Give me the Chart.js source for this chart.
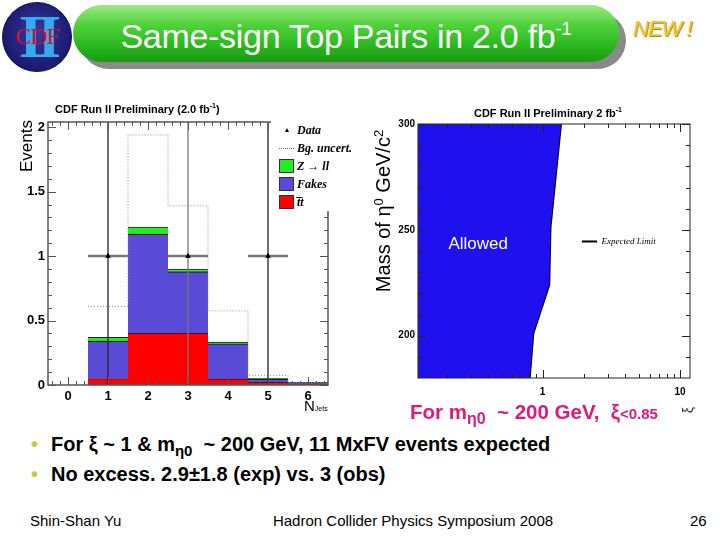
<!DOCTYPE html>
<html>
<head>
<meta charset="utf-8">
<script src="https://cdn.jsdelivr.net/npm/chart.js@4.4.0/dist/chart.umd.min.js"></script>
<style>
  body { margin: 0; width: 720px; height: 540px; background: #fff; position: relative; overflow: hidden; font-family: "Liberation Sans", Arial, sans-serif; }
  .abs { position: absolute; }
  #logo { left: 2px; top: 2px; width: 68px; height: 68px; border-radius: 50%; background: radial-gradient(circle at 50% 45%, #3a3aa0, #1a1a70 70%, #12125a); border: 1px solid #0c0c40; overflow: hidden; }
  #logo .ii { position: absolute; left: 0; width: 68px; top: -2px; text-align: center; font: bold 62px "Liberation Serif", serif; color: #35aaf0; letter-spacing: -6px; }
  #logo .cdf { position: absolute; left: 0; width: 68px; top: 20px; text-align: center; font: 24px "Liberation Serif", serif; color: #d0102c; letter-spacing: -1px; }
  #pillShadow { left: 80px; top: 12px; width: 546px; height: 57px; border-radius: 29px; background: #8a8a8a; }
  #pill { left: 73px; top: 5px; width: 546px; height: 57px; border-radius: 29px; background: linear-gradient(#9be882 0%, #4fd23a 35%, #27b41c 75%, #1c9a14 100%); }
  #title { left: 73px; top: 5px; width: 546px; height: 57px; line-height: 62px; text-align: center; color: #fff; font-size: 34px; letter-spacing: -0.3px; }
  #title sup { font-size: 19px; vertical-align: 0; position: relative; top: -13px; }
  #newTag { left: 633px; top: 16px; font: italic 22px "Liberation Sans", sans-serif; color: #f2c62a; text-shadow: 1px 1px 0 #b08a10; letter-spacing: -1px; }
  canvas { position: absolute; }
  #leftWrap { left: 0; top: 95px; width: 350px; height: 320px; position: absolute; }
  #rightWrap { left: 360px; top: 95px; width: 340px; height: 310px; position: absolute; }
  .small { font-weight: bold; font-size: 11px; color: #000; white-space: nowrap; }
  #legendL { left: 271px; top: 121px; width: 80px; height: 90px; background: #fff; font: italic bold 12px "Liberation Serif", serif; }
  #legendL .txt { position: absolute; left: 26px; white-space: nowrap; }
  #legendL .sw { position: absolute; left: 8px; width: 15px; height: 14px; border: 1px solid #333; box-sizing: border-box; }
  #legendL .tri { position: absolute; left: 14px; top: 7px; width: 0; height: 0; border-left: 2.5px solid transparent; border-right: 2.5px solid transparent; border-bottom: 4px solid #000; }
  #legendL .dot { position: absolute; left: 8px; top: 27px; width: 15px; border-top: 1px dotted #666; }
  .pink { left: 410px; top: 400px; font-weight: bold; font-size: 20.5px; color: #e0187a; white-space: nowrap; }
  .bullet { left: 31px; font-weight: bold; font-size: 20px; white-space: nowrap; }
  .bullet b { color: #c4cc3c; margin-right: 13px; }
  .foot { top: 512px; font-size: 15px; white-space: nowrap; }
</style>
</head>
<body>

<div id="logo" class="abs"><div class="ii">II</div><div class="cdf">CDF</div></div>
<div id="pillShadow" class="abs"></div>
<div id="pill" class="abs"></div>
<div id="title" class="abs">Same-sign Top Pairs in 2.0 fb<sup>-1</sup></div>
<div id="newTag" class="abs">NEW !</div>

<div id="leftWrap"><canvas id="jetsChart" width="350" height="320"></canvas></div>
<div id="rightWrap"><canvas id="limitChart" width="340" height="310"></canvas></div>

<!-- left plot texts -->
<div class="abs small" style="left:55px;top:102px;">CDF Run II Preliminary (2.0 fb<sup style="font-size:7px">-1</sup>)</div>
<div class="abs" style="left:27px;top:146px;transform:translate(-50%,-50%) rotate(-90deg);font-size:17px;">Events</div>
<div class="abs" style="left:304px;top:397px;font-size:15px;">N<span style="font-size:7px;">Jets</span></div>
<div id="legendL" class="abs">
  <span class="tri"></span><div class="txt" style="top:2px;">Data</div>
  <span class="dot"></span><div class="txt" style="top:20px;">Bg. uncert.</div>
  <span class="sw" id="swZ" style="top:38px;"></span><div class="txt" style="top:38px;">Z &#8594; ll</div>
  <span class="sw" id="swF" style="top:56px;"></span><div class="txt" style="top:56px;">Fakes</div>
  <span class="sw" id="swT" style="top:74px;"></span><div class="txt" style="top:74px;">t&#773;t</div>
</div>

<!-- right plot texts -->
<div class="abs small" style="left:548px;top:106px;transform:translateX(-50%);">CDF Run II Preliminary 2 fb<sup style="font-size:7px">-1</sup></div>
<div class="abs" style="left:383px;top:211px;transform:translate(-50%,-50%) rotate(-90deg);font-size:20px;white-space:nowrap;">Mass of &#951;<sup style="font-size:13px">0</sup> GeV/c<sup style="font-size:13px">2</sup></div>
<div class="abs" style="left:688px;top:410px;transform:translate(-50%,-50%) rotate(-90deg);font-size:14px;color:#333;">&#958;</div>
<div class="abs pink">For m<sub style="font-size:16px">&#951;0</sub>&nbsp; ~ 200 GeV,&nbsp; &#958;<span style="font-size:15px">&lt;0.85</span></div>

<div class="abs bullet" style="top:433px;"><b>&#8226;</b>For &#958; ~ 1 &amp; m<sub style="font-size:15px">&#951;0</sub>&nbsp; ~ 200 GeV, 11 MxFV events expected</div>
<div class="abs bullet" style="top:463px;"><b>&#8226;</b>No excess. 2.9&#177;1.8 (exp) vs. 3 (obs)</div>

<div class="abs foot" style="left:30px;">Shin-Shan Yu</div>
<div class="abs foot" style="left:413px;transform:translateX(-50%);">Hadron Collider Physics Symposium 2008</div>
<div class="abs foot" style="left:690px;">26</div>

<script>
// ---- left plot: same-sign events vs number of jets ----
const nJets = [0, 1, 2, 3, 4, 5, 6];
const jetLabels = ['0', '1', '2', '3', '4', '5', '6'];
const ttbar = [null, 0.05, 0.40, 0.40, 0.045, 0.02, 0.010];
const fakes = [null, 0.29, 0.77, 0.48, 0.275, 0.027, 0.008];
const zll = [null, 0.03, 0.055, 0.02, 0.012, 0.004, 0.002];
const bgUpper = [null, 0.61, 1.94, 1.39, 0.575, 0.075, 0.02];
const dataJets = [1, 3, 5];
const dataEvents = [1, 1, 1];
const dataErrLow = [1, 1, 1];
const dataErrHigh = [2.3, 2.3, 2.3];
const eventTicks = [0, 0.5, 1, 1.5, 2];

const colTT = '#ff0000';
const colFakes = '#5a4ad8';
const colZ = '#22ee22';
document.getElementById('swT').style.background = colTT;
document.getElementById('swF').style.background = colFakes;
document.getElementById('swZ').style.background = colZ;

// ---- right plot: expected limit in (xi, mass) plane ----
const limitXi = [0.805, 0.855, 1.117, 1.14, 1.36];
const limitMass = [180, 201, 224, 251, 300];
const xiRange = [0.124, 11.8];
const massRange = [180, 300];

// inward ROOT-style tick marks + frame
const frameTicks = {
  id: 'frameTicks',
  afterDatasetsDraw(chart, args, o) {
    const ctx = chart.ctx, a = chart.chartArea;
    const xs = chart.scales[o.x], ys = chart.scales[o.y];
    ctx.save();
    ctx.strokeStyle = o.color;
    ctx.lineWidth = 1;
    ctx.beginPath();
    const xt = (v, len) => {
      const p = Math.round(xs.getPixelForValue(v)) + 0.5;
      ctx.moveTo(p, a.bottom); ctx.lineTo(p, a.bottom - len);
      ctx.moveTo(p, a.top); ctx.lineTo(p, a.top + len);
    };
    const yt = (v, len) => {
      const p = Math.round(ys.getPixelForValue(v)) + 0.5;
      ctx.moveTo(a.left, p); ctx.lineTo(a.left + len, p);
      ctx.moveTo(a.right, p); ctx.lineTo(a.right - len, p);
    };
    o.xMajor.forEach(v => xt(v, 8));
    o.xMinor.forEach(v => xt(v, 4));
    o.yMajor.forEach(v => yt(v, 8));
    o.yMinor.forEach(v => yt(v, 4));
    ctx.stroke();
    ctx.lineWidth = o.frameWidth;
    ctx.strokeRect(a.left, a.top, a.width, a.height);
    ctx.restore();
  }
};

// data error bars drawn just before the data markers
const errorBars = {
  id: 'errorBars',
  beforeDatasetDraw(chart, args) {
    if (args.meta.label !== 'Data') return;
    const ctx = chart.ctx, a = chart.chartArea;
    const xs = chart.scales.xl, ys = chart.scales.yl;
    ctx.save();
    ctx.beginPath();
    ctx.rect(a.left, a.top, a.width, a.height);
    ctx.clip();
    dataJets.forEach((j, i) => {
      const px = xs.getPixelForValue(j), py = ys.getPixelForValue(dataEvents[i]);
      ctx.strokeStyle = '#777';
      ctx.lineWidth = 2.5;
      ctx.beginPath();
      ctx.moveTo(xs.getPixelForValue(j - 0.5), py);
      ctx.lineTo(xs.getPixelForValue(j + 0.5), py);
      ctx.stroke();
      ctx.strokeStyle = i === 1 ? '#777' : '#222';
      ctx.lineWidth = 1.3;
      ctx.beginPath();
      ctx.moveTo(px, ys.getPixelForValue(dataEvents[i] - dataErrLow[i]));
      ctx.lineTo(px, ys.getPixelForValue(dataEvents[i] + dataErrHigh[i]));
      ctx.stroke();
    });
    ctx.restore();
  }
};

const bgLine = [];
for (let i = 1; i < nJets.length; i++) {
  bgLine.push({ x: nJets[i] - 0.5, y: bgUpper[i] }, { x: nJets[i] + 0.5, y: bgUpper[i] });
}

const tickFont = { family: 'Liberation Sans', size: 13, weight: 'bold' };
const leftMinorX = [], leftMinorY = [];
for (let v = -0.4; v < 6.5; v += 0.2) leftMinorX.push(v);
for (let v = 0.1; v < 2.04; v += 0.1) leftMinorY.push(v);

const barOpts = { order: 3, grouped: false, barPercentage: 1, categoryPercentage: 1, borderSkipped: false };

new Chart(document.getElementById('jetsChart'), {
  type: 'bar',
  data: {
    labels: jetLabels,
    datasets: [
      Object.assign({ label: 'tt', data: ttbar, backgroundColor: colTT, borderColor: '#6a0000', borderWidth: { top: 1 } }, barOpts),
      Object.assign({ label: 'Fakes', data: fakes, backgroundColor: colFakes, borderColor: '#111', borderWidth: { top: 1.2 } }, barOpts),
      Object.assign({ label: 'Z', data: zll, backgroundColor: colZ, borderColor: '#222', borderWidth: { top: 1 } }, barOpts),
      { type: 'line', label: 'Bg', data: bgLine, xAxisID: 'xl', yAxisID: 'yl', borderColor: '#888', borderWidth: 1, borderDash: [1, 2], pointRadius: 0, fill: false, order: 2 },
      { type: 'scatter', label: 'Data', data: dataJets.map((j, i) => ({ x: j, y: dataEvents[i] })), xAxisID: 'xl', yAxisID: 'yl', pointStyle: 'triangle', pointRadius: 2.5, backgroundColor: '#000', borderColor: '#000', order: 0 }
    ]
  },
  options: {
    responsive: false,
    animation: false,
    events: [],
    layout: { padding: { left: 0, top: 27, right: 22, bottom: 0 } },
    plugins: {
      legend: { display: false },
      tooltip: { enabled: false },
      frameTicks: { x: 'xl', y: 'yl', color: '#555', frameWidth: 1.5, xMajor: nJets, xMinor: leftMinorX, yMajor: eventTicks, yMinor: leftMinorY }
    },
    scales: {
      x: {
        stacked: true,
        grid: { display: false, drawTicks: false },
        border: { display: false },
        ticks: { color: '#000', font: tickFont, padding: 4 },
        afterFit: s => { s.height = 30; }
      },
      y: {
        stacked: true, min: 0, max: 2.04,
        grid: { display: false, drawTicks: false },
        border: { display: false },
        afterBuildTicks: s => { s.ticks = eventTicks.map(v => ({ value: v })); },
        ticks: { color: '#000', font: tickFont, padding: 3, callback: v => String(v) },
        afterFit: s => { s.width = 48; }
      },
      xl: { type: 'linear', display: false, offset: false, min: -0.5, max: 6.5 },
      yl: { type: 'linear', display: false, min: 0, max: 2.04 }
    }
  },
  plugins: [errorBars, frameTicks]
});

// ---- right chart ----
const allowedShape = [{ x: xiRange[0], y: massRange[0] }]
  .concat(limitXi.map((x, i) => ({ x: x, y: limitMass[i] })))
  .concat([{ x: xiRange[0], y: massRange[1] }]);

const allowedLabel = {
  id: 'allowedLabel',
  afterDatasetsDraw(chart) {
    const ctx = chart.ctx, xs = chart.scales.x, ys = chart.scales.y;
    ctx.save();
    ctx.fillStyle = '#fff';
    ctx.font = '17px "Liberation Sans"';
    ctx.textAlign = 'center';
    ctx.textBaseline = 'middle';
    ctx.fillText('Allowed', xs.getPixelForValue(0.34), ys.getPixelForValue(243));
    // legend entry for the limit curve
    const ly = ys.getPixelForValue(244.5);
    ctx.strokeStyle = '#000';
    ctx.lineWidth = 2;
    ctx.beginPath();
    ctx.moveTo(xs.getPixelForValue(1.93), ly);
    ctx.lineTo(xs.getPixelForValue(2.49), ly);
    ctx.stroke();
    ctx.fillStyle = '#000';
    ctx.font = 'italic 9px "Liberation Serif"';
    ctx.textAlign = 'left';
    ctx.fillText('Expected Limit', xs.getPixelForValue(2.68), ly);
    ctx.restore();
  }
};

new Chart(document.getElementById('limitChart'), {
  type: 'scatter',
  data: {
    datasets: [
      { label: 'Allowed', data: allowedShape, showLine: true, fill: 'shape', backgroundColor: '#1f10ee', borderWidth: 0, borderColor: '#1f10ee', pointRadius: 0 },
      { label: 'Expected Limit', data: limitXi.map((x, i) => ({ x: x, y: limitMass[i] })), showLine: true, borderColor: '#000', borderWidth: 2, pointRadius: 0, fill: false }
    ]
  },
  options: {
    responsive: false,
    animation: false,
    events: [],
    layout: { padding: { left: 0, top: 29, right: 10, bottom: 0 } },
    plugins: {
      legend: { display: false },
      tooltip: { enabled: false },
      frameTicks: {
        x: 'x', y: 'y', color: '#222', frameWidth: 1,
        xMajor: [1, 10], xMinor: [0.2, 0.3, 0.4, 0.5, 0.6, 0.7, 0.8, 0.9, 2, 3, 4, 5, 6, 7, 8, 9],
        yMajor: [200, 250, 300], yMinor: [190, 210, 220, 230, 240, 260, 270, 280, 290]
      }
    },
    scales: {
      x: {
        type: 'logarithmic', min: xiRange[0], max: xiRange[1],
        grid: { display: false, drawTicks: false },
        border: { display: false },
        ticks: { color: '#000', font: { family: 'Liberation Sans', size: 10, weight: 'bold' }, padding: 8, autoSkip: false, maxRotation: 0,
          callback: v => (v === 1 || v === 10) ? String(v) : '' },
        afterFit: s => { s.height = 27; }
      },
      y: {
        min: massRange[0], max: massRange[1],
        grid: { display: false, drawTicks: false },
        border: { display: false },
        ticks: { stepSize: 50, color: '#000', font: { family: 'Liberation Sans', size: 10, weight: 'bold' }, padding: 3,
          callback: v => (v % 50 === 0) ? String(v) : '' },
        afterFit: s => { s.width = 58; }
      }
    }
  },
  plugins: [allowedLabel, frameTicks]
});
</script>
</body>
</html>
